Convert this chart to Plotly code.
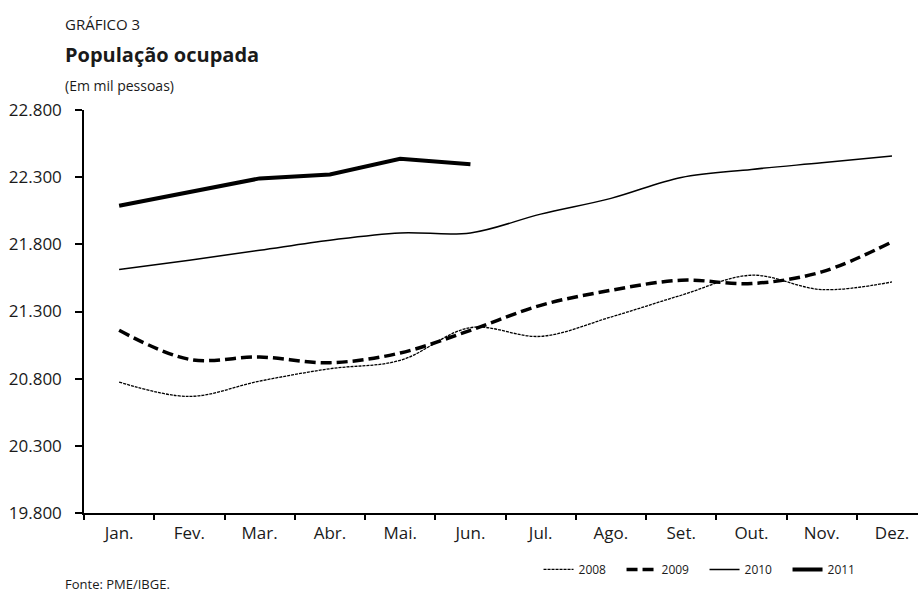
import plotly.graph_objects as go

months = ["Jan.", "Fev.", "Mar.", "Abr.", "Mai.", "Jun.", "Jul.", "Ago.", "Set.", "Out.", "Nov.", "Dez."]
y2008 = [20775, 20668, 20782, 20874, 20936, 21180, 21115, 21259, 21421, 21570, 21463, 21520]
y2009 = [21160, 20944, 20961, 20919, 20991, 21160, 21346, 21458, 21533, 21508, 21595, 21818]
y2010 = [21612, 21682, 21756, 21831, 21885, 21885, 22025, 22142, 22298, 22358, 22407, 22457]
y2011 = [22087, 22189, 22291, 22320, 22437, 22397]
yticks = [19800, 20300, 20800, 21300, 21800, 22300, 22800]
yticklabels = ["19.800", "20.300", "20.800", "21.300", "21.800", "22.300", "22.800"]

FONT = "Open Sans"
fig = go.Figure()
fig.add_trace(go.Scatter(x=months, y=y2008, name="2008", mode="lines",
                         line=dict(color="black", width=1.3, dash="3px,1px", shape="spline")))
fig.add_trace(go.Scatter(x=months, y=y2009, name="2009", mode="lines",
                         line=dict(color="black", width=3.5, dash="11px,5px", shape="spline")))
fig.add_trace(go.Scatter(x=months, y=y2010, name="2010", mode="lines",
                         line=dict(color="black", width=1.5, shape="spline")))
fig.add_trace(go.Scatter(x=months[:len(y2011)], y=y2011, name="2011", mode="lines",
                         line=dict(color="black", width=4)))

fig.update_layout(
    width=918, height=595,
    margin=dict(l=84, r=0, t=110, b=82, pad=0),
    paper_bgcolor="white", plot_bgcolor="white",
    font=dict(family=FONT, color="#1a1a1a", size=17),
    showlegend=True,
    legend=dict(orientation="h", x=0.545, xanchor="left", y=-0.14, yanchor="middle",
                font=dict(size=12, family=FONT), entrywidth=38, entrywidthmode="pixels",
                bgcolor="rgba(0,0,0,0)"),
    xaxis=dict(type="category", categoryorder="array", categoryarray=months,
               range=[-0.5, 11.37], showgrid=False, zeroline=False,
               showline=True, linecolor="black", linewidth=1.5,
               ticks="outside", ticklen=5, tickwidth=1.5, tickcolor="black",
               tickson="boundaries", ticklabelstandoff=4, tickfont=dict(size=17, family=FONT)),
    yaxis=dict(range=[19800, 22800], tickvals=yticks, ticktext=yticklabels,
               showgrid=False, zeroline=False, showline=True, linecolor="black", linewidth=1.5,
               ticks="outside", ticklen=7, tickwidth=1.5, tickcolor="black",
               ticklabelstandoff=10, tickfont=dict(size=17, family=FONT)),
)

def ann(text, x, y, size, bold=False, yanchor="middle"):
    return dict(text=("<b>%s</b>" % text) if bold else text, xref="paper", yref="paper",
                x=(x - 84) / 834.0, y=(512.7 - y) / 402.7, xanchor="left", yanchor=yanchor,
                showarrow=False, font=dict(size=size, family=FONT, color="#1a1a1a"))

fig.layout.annotations = [
    ann("GRÁFICO 3", 63, 24, 15),
    ann("População ocupada", 63, 55, 20, bold=True),
    ann("(Em mil pessoas)", 63, 86, 14),
    ann("Fonte: PME/IBGE.", 63, 595, 13, yanchor="bottom"),
]

fig.write_html("out.html")
